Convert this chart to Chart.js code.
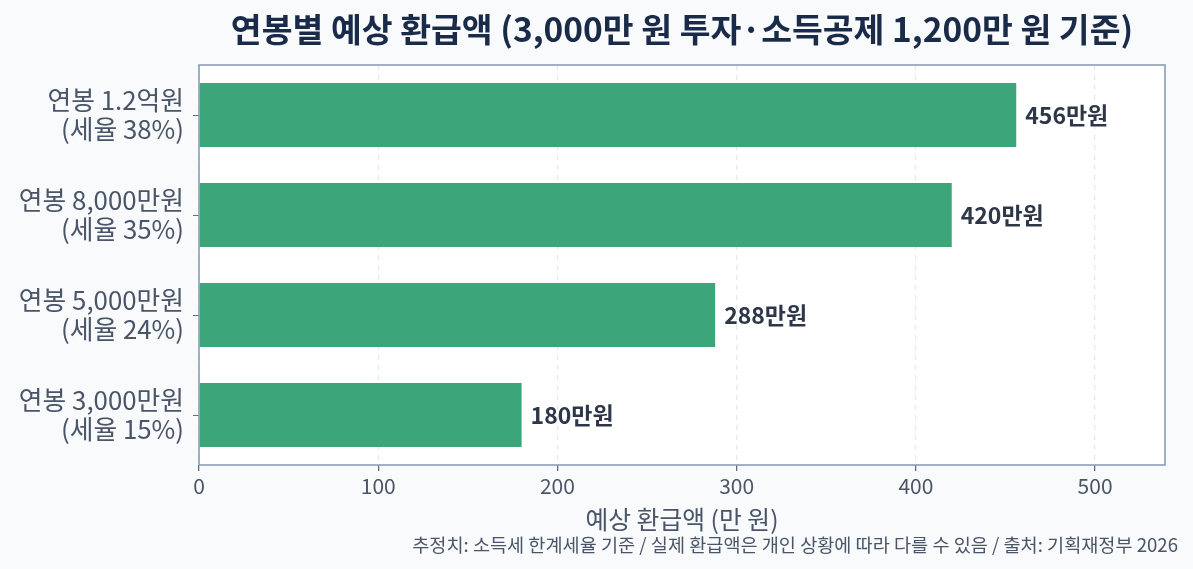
<!DOCTYPE html>
<html><head><meta charset="utf-8">
<script src="https://cdn.jsdelivr.net/npm/chart.js@4"></script>
<style>html,body{margin:0;padding:0;background:#f8fafc;}#wrap{width:1193px;height:569px;}</style>
</head><body><div id="wrap"><canvas id="c" width="1193" height="569"></canvas></div>
<script>
const categories = [["연봉 1.2억원","(세율 38%)"],["연봉 8,000만원","(세율 35%)"],["연봉 5,000만원","(세율 24%)"],["연봉 3,000만원","(세율 15%)"]];
const refunds = [456, 420, 288, 180];
const valueLabels = ["456만원","420만원","288만원","180만원"];
const titleText = "연봉별 예상 환급액 (3,000만 원 투자·소득공제 1,200만 원 기준)";
const xTitle = "예상 환급액 (만 원)";
const footnote = "추정치: 소득세 한계세율 기준 / 실제 환급액은 개인 상황에 따라 다를 수 있음 / 출처: 기획재정부 2026";
const FONT = "'Noto Sans CJK KR','Noto Sans',sans-serif";

const overlay = {
  id:'overlay',
  beforeDraw(chart){
    const {ctx, chartArea:a} = chart;
    ctx.save();
    ctx.fillStyle = '#f8fafc';
    ctx.fillRect(0,0,chart.width,chart.height);
    ctx.fillStyle = '#ffffff';
    ctx.fillRect(a.left,a.top,a.right-a.left,a.bottom-a.top);
    ctx.restore();
  },
  afterDraw(chart){
    const {ctx, chartArea:a} = chart;
    ctx.save();
    ctx.strokeStyle = '#8d9db4';
    ctx.lineWidth = 1.6;
    ctx.strokeRect(a.left, a.top, a.right-a.left, a.bottom-a.top);
    const cx = (a.left+a.right)/2;
    ctx.fillStyle = '#1a2b4a';
    ctx.font = "bold 33.5px " + FONT;
    ctx.textAlign='center'; ctx.textBaseline='middle';
    ctx.fillText(titleText, cx, 29);
    ctx.fillStyle = '#4a5568';
    ctx.font = "24.8px " + FONT;
    ctx.fillText(xTitle, cx, 520);
    ctx.font = "18.6px " + FONT;
    ctx.textAlign='right';
    ctx.fillText(footnote, 1178, 545);
    const meta = chart.getDatasetMeta(0);
    ctx.fillStyle = '#2d3748';
    ctx.font = "bold 23px " + FONT;
    ctx.textAlign='left';
    meta.data.forEach((bar,i)=>{
      ctx.fillText(valueLabels[i], bar.x + 9, bar.y);
    });
    ctx.restore();
  }
};

new Chart(document.getElementById('c'), {
  type:'bar',
  data:{labels:categories, datasets:[{data:refunds, backgroundColor:'#3ca57a', borderWidth:0, barPercentage:0.8, categoryPercentage:0.8}]},
  options:{
    indexAxis:'y', responsive:false, animation:false, devicePixelRatio:1,
    layout:{padding:{top:65,right:28,left:0,bottom:0}},
    plugins:{legend:{display:false}, tooltip:{enabled:false}, title:{display:false}},
    scales:{
      x:{min:0,max:539,
        afterBuildTicks(s){ s.ticks = s.ticks.filter(t => t.value % 100 === 0); },
        ticks:{stepSize:100,color:'#4a5568',font:{family:FONT,size:21},padding:2},
        grid:{color:'#e6eaf0',lineWidth:1.3,tickColor:'#5b6b80',tickLength:6,drawOnChartArea:true},
        border:{display:false,dash:[5,5]},
        afterFit(s){s.height=104;}
      },
      y:{
        ticks:{color:'#4a5568',font:{family:FONT,size:25.8,lineHeight:1.13},padding:9},
        grid:{drawOnChartArea:false,offset:false,tickColor:'#5b6b80',tickLength:6},
        border:{display:false},
        afterFit(s){s.width=199;}
      }
    }
  },
  plugins:[overlay]
});
</script></body></html>
